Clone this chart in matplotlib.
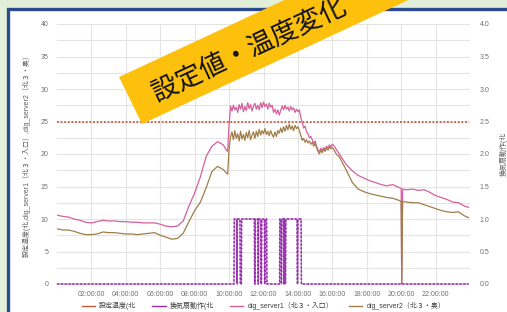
import matplotlib
matplotlib.use("Agg")
import matplotlib.pyplot as plt
from matplotlib.patches import Rectangle, Polygon
from matplotlib.lines import Line2D

plt.rcParams['font.family'] = ['Liberation Sans', 'Noto Sans CJK JP', 'DejaVu Sans']

# ---------------- data ----------------
times = [
    # 00:00 - 09:40 (20 min)
    "00:00", "00:20", "00:40", "01:00", "01:20", "01:40", "02:00", "02:20", "02:40", "03:00",
    "03:20", "03:40", "04:00", "04:20", "04:40", "05:00", "05:20", "05:40", "06:00", "06:20",
    "06:40", "07:00", "07:20", "07:40", "08:00", "08:20", "08:40", "09:00", "09:20", "09:40",
    # 09:50 - 16:30 (5 min)
    "09:50", "09:55",
    "10:00", "10:05", "10:10", "10:15", "10:20", "10:25", "10:30", "10:35", "10:40", "10:45", "10:50", "10:55",
    "11:00", "11:05", "11:10", "11:15", "11:20", "11:25", "11:30", "11:35", "11:40", "11:45", "11:50", "11:55",
    "12:00", "12:05", "12:10", "12:15", "12:20", "12:25", "12:30", "12:35", "12:40", "12:45", "12:50", "12:55",
    "13:00", "13:05", "13:10", "13:15", "13:20", "13:25", "13:30", "13:35", "13:40", "13:45", "13:50", "13:55",
    "14:00", "14:05", "14:10", "14:15", "14:20", "14:25", "14:30", "14:35", "14:40", "14:45", "14:50", "14:55",
    "15:00", "15:05", "15:10", "15:15", "15:20", "15:25", "15:30", "15:35", "15:40", "15:45", "15:50", "15:55",
    "16:00", "16:05", "16:10", "16:15", "16:20", "16:25", "16:30",
    # 16:50 - 23:55
    "16:50", "17:10", "17:30", "17:50", "18:10", "18:30", "18:50", "19:10", "19:30", "19:50",
    "20:00", "20:02", "20:05", "20:20", "20:40", "21:00", "21:20", "21:40", "22:00", "22:20",
    "22:40", "23:00", "23:20", "23:40", "23:55",
]

server1 = [
    10.6, 10.4, 10.3, 10.0, 9.8, 9.5, 9.4, 9.6, 9.8, 9.7,
    9.7, 9.6, 9.6, 9.5, 9.5, 9.4, 9.4, 9.4, 9.2, 8.9,
    8.8, 8.9, 9.7, 12.0, 14.0, 16.5, 19.6, 21.2, 21.9, 21.4,
    20.6, 20.4,
    24.5, 27.4, 26.6, 27.5, 26.8, 27.2, 26.4, 27.6, 26.9, 27.8, 26.5, 27.3,
    26.7, 27.9, 27.0, 27.6, 26.6, 27.4, 27.8, 26.9, 27.5, 26.8, 27.9, 27.1,
    28.0, 27.3, 27.7, 26.9, 27.8, 27.2, 27.5, 26.4, 26.9, 26.2, 26.8, 26.0,
    26.7, 27.4, 26.8, 27.5, 26.9, 27.2, 26.6, 27.3, 26.8, 27.1, 26.4, 26.9,
    26.5, 26.8, 25.6, 24.9, 24.0, 24.3, 23.4, 23.1, 22.5, 22.7, 22.2, 21.6,
    22.0, 21.2, 20.6, 20.4, 20.9, 20.5, 21.0, 20.7, 21.2, 20.9, 21.4, 21.1,
    21.5, 21.3, 21.0, 20.6, 20.3, 20.0, 19.6,
    18.3, 17.4, 16.7, 16.3, 15.9, 15.6, 15.3, 15.1, 15.3, 14.9,
    14.7, 0.0, 14.6, 14.5, 14.6, 14.4, 14.5, 14.1, 13.6, 13.3,
    13.0, 12.6, 12.5, 12.0, 11.8,
]

server2 = [
    8.5, 8.3, 8.3, 8.1, 7.8, 7.6, 7.6, 7.7, 8.0, 7.9,
    7.9, 7.8, 7.7, 7.7, 7.6, 7.7, 7.8, 7.9, 7.5, 7.2,
    6.9, 7.0, 7.8, 9.6, 11.3, 12.6, 14.8, 17.3, 18.1, 17.6,
    17.1, 16.9,
    20.8, 22.6, 23.4, 22.2, 23.6, 22.4, 23.1, 22.0, 23.5, 22.3, 23.0, 22.1,
    23.3, 22.5, 23.6, 22.2, 22.9, 23.4, 22.4, 23.5, 22.7, 23.8, 22.9, 23.6,
    23.1, 23.9, 23.0, 23.5, 22.8, 23.6, 23.0, 22.6, 23.4, 22.7, 23.6, 23.2,
    24.0, 23.3, 24.2, 23.5, 24.4, 23.7, 24.6, 23.8, 24.3, 23.6, 24.4, 23.9,
    24.2, 23.6, 22.9, 22.1, 22.4, 21.8, 22.2, 21.7, 22.0, 21.5, 21.8, 21.2,
    21.6, 21.0, 20.4, 20.0, 20.6, 20.2, 20.8, 20.4, 20.9, 20.6, 21.1, 20.8,
    21.0, 20.7, 20.3, 19.9, 19.8, 19.5, 19.1,
    17.4, 15.6, 14.6, 14.2, 13.9, 13.7, 13.5, 13.3, 13.2, 12.9,
    12.7, 0.0, 12.7, 12.6, 12.5, 12.5, 12.2, 11.9, 11.6, 11.3,
    11.1, 11.0, 11.1, 10.5, 10.2,
]

setpoint_times = ["00:00", "23:55"]
setpoint_vals = [25, 25]

fan_times = [
    "00:00",
    "10:17", "10:18", "10:26", "10:27",
    "10:28", "10:29", "10:38", "10:39",
    "10:43", "10:44", "11:28", "11:29",
    "11:31", "11:32", "11:40", "11:41",
    "11:42", "11:43", "11:50", "11:51",
    "11:53", "11:54", "12:03", "12:04",
    "12:05", "12:06", "12:11", "12:12",
    "12:56", "12:57", "13:01", "13:02",
    "13:03", "13:04", "13:10", "13:11",
    "13:12", "13:15", "13:16",
    "13:17", "13:18", "13:57", "13:58",
    "13:59", "14:00", "14:11", "14:12",
    "23:55",
]
fan_vals = [
    0,
    0, 1, 1, 0,
    0, 1, 1, 0,
    0, 1, 1, 0,
    0, 1, 1, 0,
    0, 1, 1, 0,
    0, 1, 1, 0,
    0, 1, 1, 0,
    0, 1, 1, 0,
    0, 1, 1, 0,
    1, 1, 0,
    0, 1, 1, 0,
    0, 1, 1, 0,
    0,
]

x_ticks = [2, 4, 6, 8, 10, 12, 14, 16, 18, 20, 22]
x_tick_labels = ["02:00:00", "04:00:00", "06:00:00", "08:00:00", "10:00:00", "12:00:00",
                 "14:00:00", "16:00:00", "18:00:00", "20:00:00", "22:00:00"]

names = ["設定温度(北", "換気扇動作(北", "dig_server1（北３・入口）", "dig_server2（北３・奥）"]
left_label = "設定温度(北,dig_server1（北３・入口）,dig_server2（北３・奥）"
right_label = "換気扇動作(北"
banner_text = "設定値・温度変化"


def hrs(s):
    h, m = s.split(":")
    return int(h) + int(m) / 60.0


# ---------------- figure ----------------
W, H = 507, 312
fig = plt.figure(figsize=(W / 100, H / 100), dpi=100)
fig.patch.set_facecolor("#e2efd9")

# background panel
bg = fig.add_axes([0, 0, 1, 1], zorder=0)
bg.set_xlim(0, W)
bg.set_ylim(H, 0)
bg.axis("off")
bg.add_patch(Rectangle((8, 9), 700, 500, facecolor="white", edgecolor="#2c4b8e", lw=2.4))

c_set = "#c45a3c"
c_fan = "#9a2fae"
c_s1 = "#d5609c"
c_s2 = "#a07e48"

ax = fig.add_axes([57 / W, 1 - 284 / H, (470 - 57) / W, (284 - 24) / H], zorder=1)
ax.set_facecolor("white")
for s in ax.spines.values():
    s.set_visible(False)

ax.set_xlim(0, 24)
ax.set_ylim(0, 40)
ax.set_yticks([0, 5, 10, 15, 20, 25, 30, 35, 40])
ax.set_yticks([2.5, 7.5, 12.5, 17.5, 22.5, 27.5, 32.5, 37.5], minor=True)
ax.set_xticks(x_ticks)
ax.set_xticklabels(x_tick_labels)
ax.grid(True, which="both", axis="y", color="#e4e4e4", lw=0.8)
ax.grid(True, which="major", axis="x", color="#e4e4e4", lw=0.8)
ax.set_axisbelow(True)
ax.tick_params(which="both", length=0, labelsize=5, colors="#707070", pad=6)
ax.tick_params(axis="x", pad=5)

t = [hrs(s) for s in times]
ax.plot([hrs(s) for s in setpoint_times], setpoint_vals, color=c_set, lw=1.3,
        linestyle=(0, (1, 1)), zorder=3)
ax.plot(t, server1, color=c_s1, lw=0.9, zorder=4)
ax.plot(t, server2, color=c_s2, lw=0.9, zorder=4)

ax.set_ylabel(left_label, fontsize=5, color="#606060", labelpad=7)

ax2 = ax.twinx()
for s in ax2.spines.values():
    s.set_visible(False)
ax2.set_ylim(0, 4)
ax2.set_yticks([0, 0.5, 1.0, 1.5, 2.0, 2.5, 3.0, 3.5, 4.0])
ax2.set_yticklabels(["0.0", "0.5", "1.0", "1.5", "2.0", "2.5", "3.0", "3.5", "4.0"])
ax2.tick_params(length=0, labelsize=5, colors="#707070", pad=7)
fan_x = [hrs(s) for s in fan_times]
ax2.plot(fan_x, fan_vals, color=c_fan, lw=0.6, alpha=0.75, zorder=5, clip_on=False)
ax2.plot(fan_x, fan_vals, color=c_fan, lw=1.1, zorder=5, clip_on=False,
         linestyle=(0, (1.5, 1.0)))
ax2.set_ylabel(right_label, fontsize=5, color="#606060", rotation=90, labelpad=7)

handles = [Line2D([], [], color=c, lw=1.0) for c in (c_set, c_fan, c_s1, c_s2)]
ax.legend(handles, names, loc="center", bbox_to_anchor=(0.5, -0.085), ncol=4, frameon=False,
          fontsize=5, handlelength=1.9, handletextpad=0.6, columnspacing=2.3,
          labelcolor="#404040")

# banner overlay
ov = fig.add_axes([0, 0, 1, 1], zorder=10)
ov.set_xlim(0, W)
ov.set_ylim(H, 0)
ov.axis("off")
ov.patch.set_alpha(0)
ov.add_patch(Polygon([(119, 77), (142, 124), (595, -87), (572, -134)], closed=True,
                     facecolor="#fdc10d", edgecolor="none"))
ov.text(249, 50, banner_text, fontsize=19, rotation=25, rotation_mode="anchor",
        ha="center", va="center", color="#111111", family=["Noto Sans CJK JP"])

fig.savefig("out.png", dpi=100)
